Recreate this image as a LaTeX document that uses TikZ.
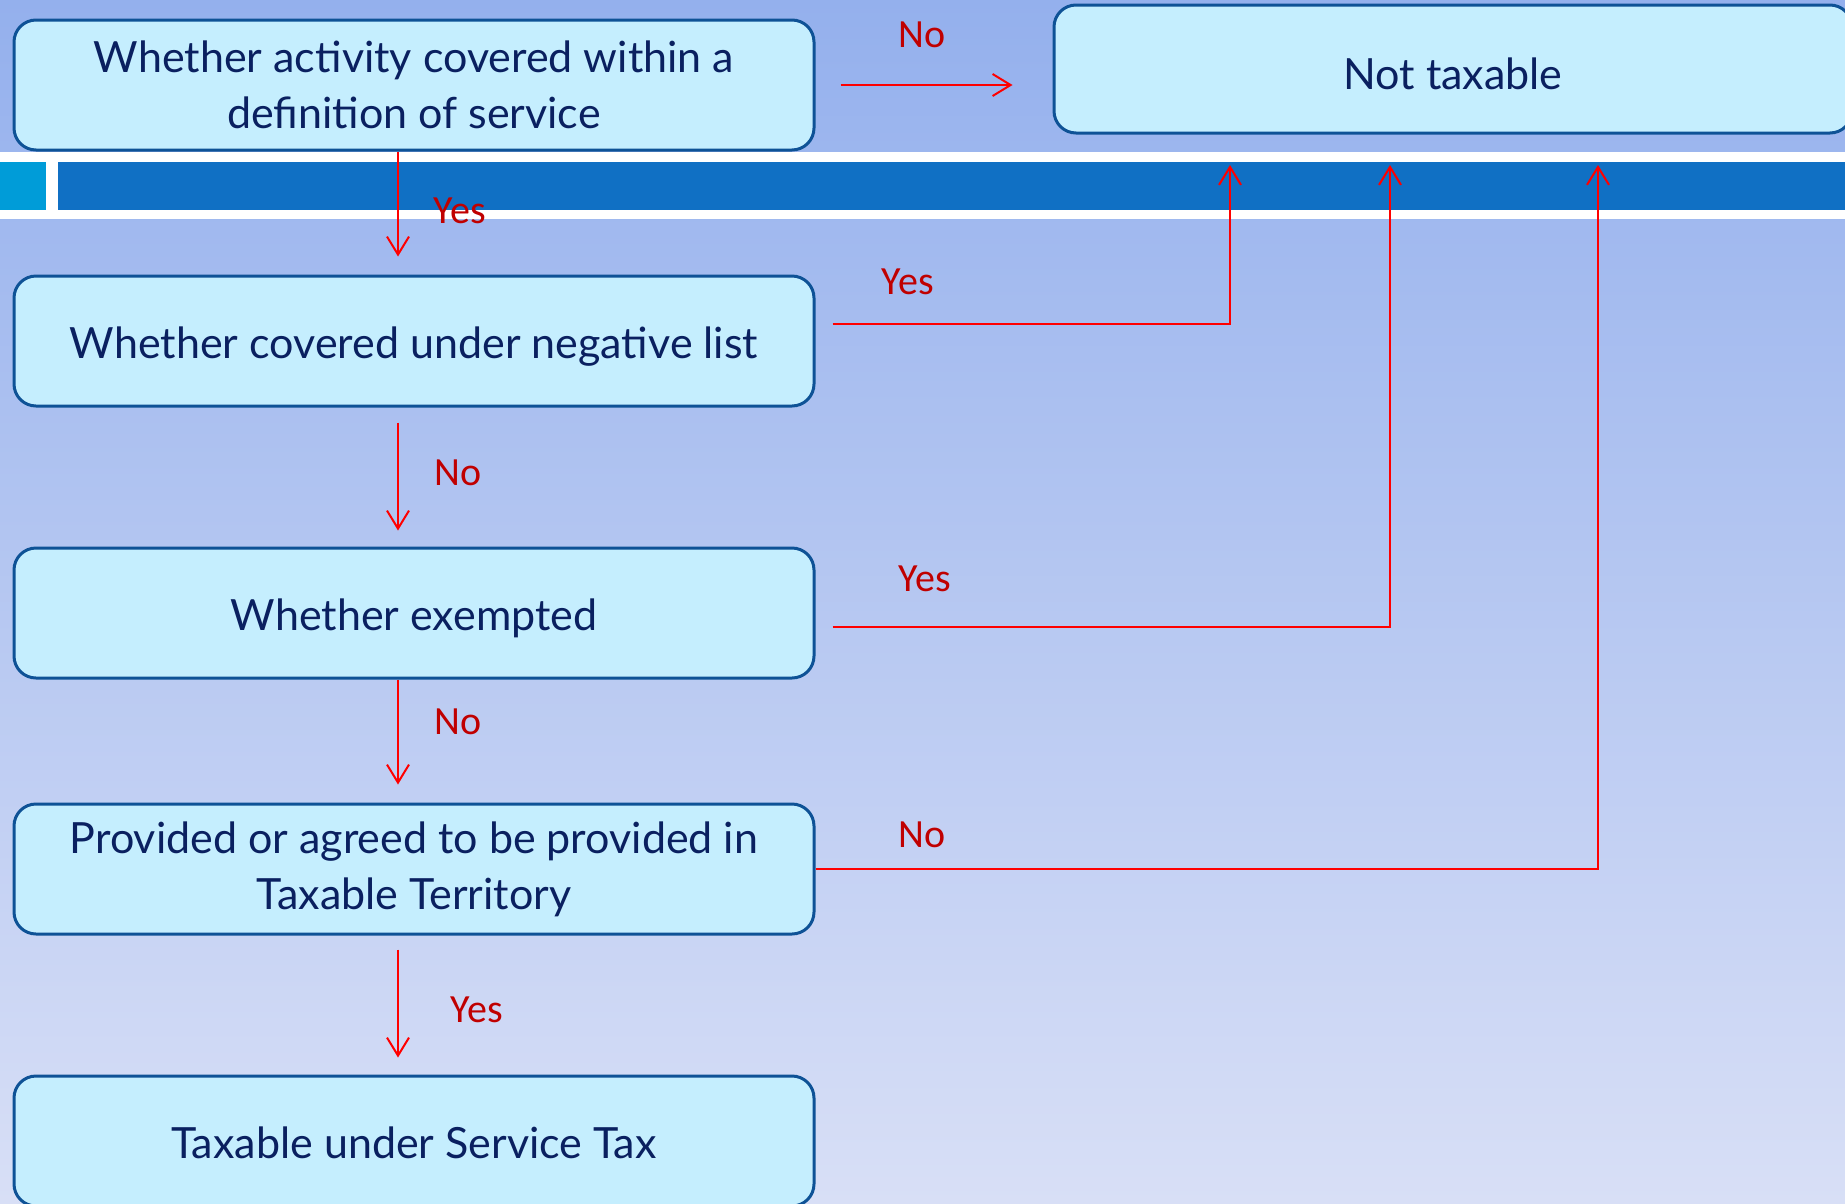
\documentclass[tikz,border=0pt]{standalone}
\usepackage{fontspec}
\setmainfont{Lato}
\newfontfamily\lblfont{Carlito}
\usetikzlibrary{arrows.meta}
\definecolor{bgtop}{RGB}{148,176,237}
\definecolor{bgbot}{RGB}{216,223,246}
\definecolor{boxfill}{RGB}{197,238,254}
\definecolor{boxline}{RGB}{14,82,150}
\definecolor{boxtext}{RGB}{10,32,96}
\definecolor{bandblue}{RGB}{16,112,196}
\definecolor{bandcyan}{RGB}{0,156,216}
\definecolor{flowred}{RGB}{255,0,0}
\definecolor{lblred}{RGB}{192,0,0}
\tikzset{
  stepbox/.style={draw=boxline, line width=3pt, fill=boxfill, rounded corners=22pt,
    minimum width=800pt, minimum height=130pt, align=center, text=boxtext,
    font=\fontsize{43}{56}\selectfont, inner sep=0pt},
  oneline/.style={text height=40pt, text depth=6pt},
  flow/.style={draw=flowred, line width=2pt,
    -{Straight Barb[length=18pt,width=22pt,line width=2pt]}},
  lbl/.style={text=lblred, font=\lblfont\fontsize{40}{48}\selectfont, inner sep=0pt}
}
\begin{document}
\begin{tikzpicture}[x=1pt,y=-1pt]
  % page background
  \useasboundingbox (0,0) rectangle (1845,1203);
  \shade[top color=bgtop, bottom color=bgbot] (0,0) rectangle (1845,1203);
  % title band
  \fill[white] (0,152) rectangle (1845,219);
  \fill[bandcyan] (0,162) rectangle (46,210);
  \fill[bandblue] (58,162) rectangle (1845,210);

  % decision boxes
  \node[stepbox] (q1) at (414,85) {Whether activity covered within a\\definition of service};
  \node[stepbox, oneline] (q2) at (414,341) {Whether covered under negative list};
  \node[stepbox, oneline] (q3) at (414,613) {Whether exempted};
  \node[stepbox] (q4) at (414,869) {Provided or agreed to be provided in\\Taxable Territory};
  \node[stepbox, oneline] (res) at (414,1141) {Taxable under Service Tax};
  \node[stepbox, text height=42pt, text depth=2pt, minimum width=798pt, minimum height=128pt] (nt) at (1453,69) {Not taxable};

  % arrow tips below the "Not taxable" box
  \coordinate (t1) at (1230,165);
  \coordinate (t2) at (1390,165);
  \coordinate (t3) at (1598,165);

  % main flow
  \draw[flow] ([xshift=25pt]q1.east) -- ([xshift=-40pt]nt.west |- q1.east);
  \draw[flow] ([xshift=-16pt]q1.south) -- ([xshift=-16pt,yshift=18pt]q2.north);
  \draw[flow] ([xshift=-16pt,yshift=-15pt]q2.south) -- ([xshift=-16pt,yshift=16pt]q3.north);
  \draw[flow] ([xshift=-16pt]q3.south) -- ([xshift=-16pt,yshift=18pt]q4.north);
  \draw[flow] ([xshift=-16pt,yshift=-14pt]q4.south) -- ([xshift=-16pt,yshift=17pt]res.north);

  % branches to "Not taxable"
  \draw[flow] ([xshift=17pt,yshift=17pt]q2.east) -| (t1);
  \draw[flow] ([xshift=17pt,yshift=-14pt]q3.east) -| (t2);
  \draw[flow] (q4.east) -| (t3);

  % labels
  \node[lbl] (l1) at (922,35) {No};
  \node[lbl] (l2) at (460,211) {Yes};
  \node[lbl] (l3) at (458,473) {No};
  \node[lbl] (l4) at (458,722) {No};
  \node[lbl] (l5) at (477,1010) {Yes};
  \node[lbl] (l6) at (908,282) {Yes};
  \node[lbl] (l7) at (925,579) {Yes};
  \node[lbl] (l8) at (922,835) {No};
\end{tikzpicture}
\end{document}
